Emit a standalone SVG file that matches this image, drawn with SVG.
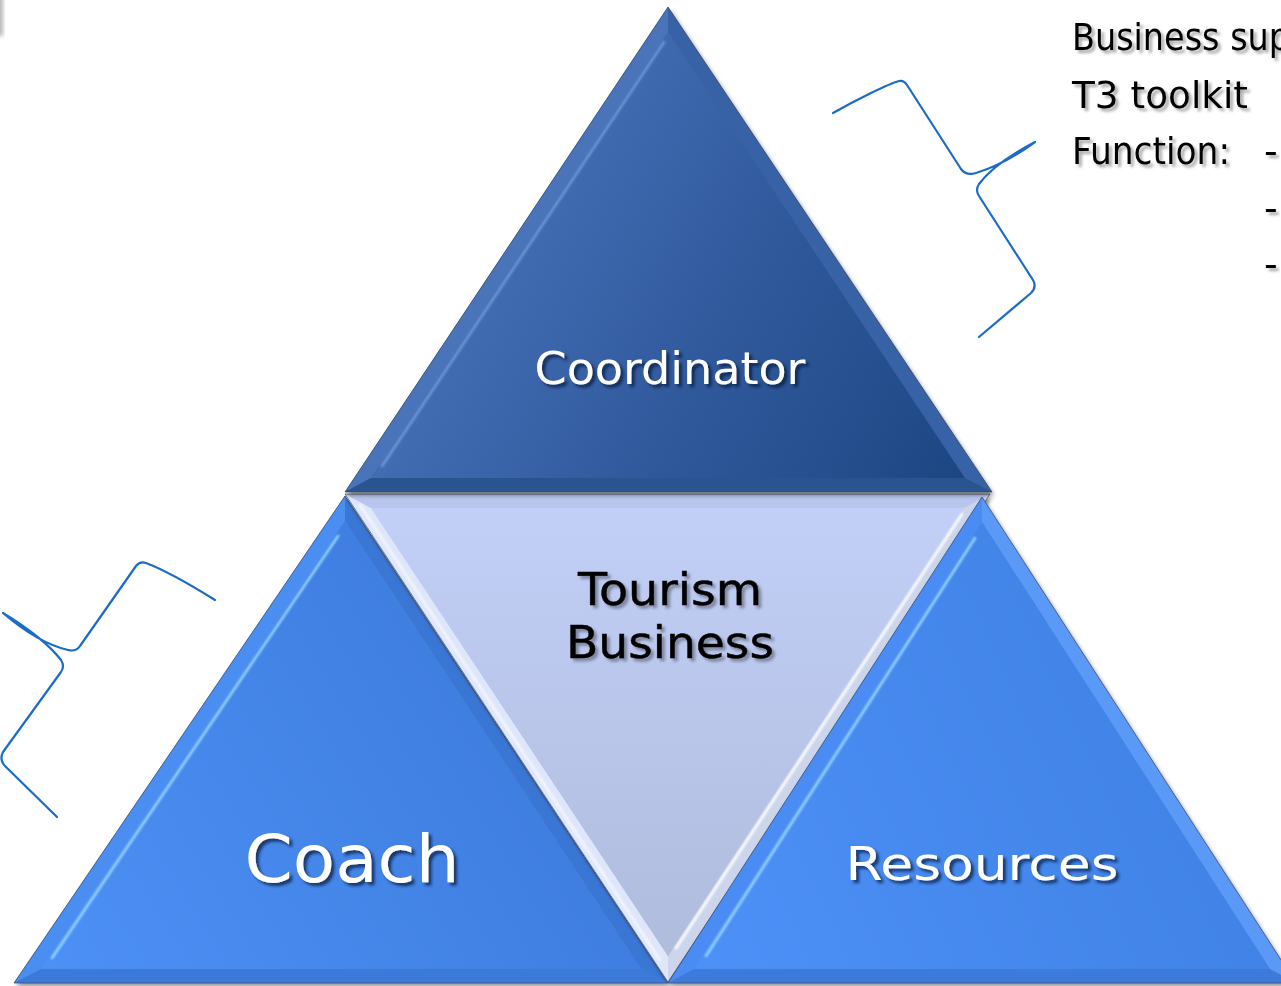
<svg xmlns="http://www.w3.org/2000/svg" width="1281" height="986" viewBox="0 0 1281 986">
<defs>
<style>
.lbl{font-family:"DejaVu Sans","Liberation Sans",sans-serif;text-anchor:middle}
.wt{fill:#ffffff;filter:url(#tsh)}
.bk{fill:#000000;stroke:#000;stroke-width:0.5;filter:url(#tsh2)}
.side{font-family:"DejaVu Sans","Liberation Sans",sans-serif;font-size:38px;fill:#000;filter:url(#tsh2)}
.brace{fill:none;stroke:#1a6cc6;stroke-width:2.2;stroke-linecap:round;stroke-linejoin:round}
.edge{fill:none;stroke:#3c4a60;stroke-width:1;stroke-opacity:0.7}
.hl{fill:none;stroke-width:2.5;stroke-linecap:round;filter:url(#soft)}
</style>
<filter id="dsh" x="-5%" y="-5%" width="110%" height="110%">
<feDropShadow dx="2" dy="3" stdDeviation="2" flood-color="#000" flood-opacity="0.45"/>
</filter>
<filter id="tsh" x="-10%" y="-20%" width="125%" height="150%">
<feGaussianBlur in="SourceAlpha" stdDeviation="1.6"/>
<feOffset dx="2.5" dy="3" result="b"/>
<feFlood flood-color="#0a1a3a" flood-opacity="0.75"/>
<feComposite in2="b" operator="in"/>
<feMerge><feMergeNode/><feMergeNode in="SourceGraphic"/></feMerge>
</filter>
<filter id="tsh2" x="-10%" y="-20%" width="125%" height="150%">
<feGaussianBlur in="SourceAlpha" stdDeviation="1.6"/>
<feOffset dx="2.5" dy="3" result="b"/>
<feFlood flood-color="#000" flood-opacity="0.35"/>
<feComposite in2="b" operator="in"/>
<feMerge><feMergeNode/><feMergeNode in="SourceGraphic"/></feMerge>
</filter>
<filter id="soft" x="-5%" y="-5%" width="110%" height="110%">
<feGaussianBlur stdDeviation="0.9"/>
</filter>
<filter id="blur4"><feGaussianBlur stdDeviation="2"/></filter>
<linearGradient id="gTop" gradientUnits="userSpaceOnUse" x1="400" y1="150" x2="990" y2="480">
<stop offset="0" stop-color="#4d78c0"/>
<stop offset="0.55" stop-color="#30599c"/>
<stop offset="1" stop-color="#1a4580"/>
</linearGradient>
<linearGradient id="gLeft" gradientUnits="userSpaceOnUse" x1="40" y1="970" x2="640" y2="600">
<stop offset="0" stop-color="#4d90f6"/>
<stop offset="1" stop-color="#3a78d8"/>
</linearGradient>
<linearGradient id="gRight" gradientUnits="userSpaceOnUse" x1="700" y1="960" x2="1270" y2="700">
<stop offset="0" stop-color="#4d90f7"/>
<stop offset="1" stop-color="#3e80e2"/>
</linearGradient>
<linearGradient id="gMid" gradientUnits="userSpaceOnUse" x1="0" y1="500" x2="0" y2="960">
<stop offset="0" stop-color="#c2cff7"/>
<stop offset="1" stop-color="#b0bcdc"/>
</linearGradient>
</defs>
<rect x="0" y="0" width="1281" height="986" fill="#ffffff"/>
<rect x="-8" y="-6" width="11" height="42" fill="#9a9a9a" filter="url(#blur4)" opacity="0.7"/>

<g id="node-coach">
<polygon points="345,496 14,983 668,983" fill="#4a8cf0" filter="url(#dsh)"/>
<polygon points="345,496 14,983 41,969 345,521" fill="#4b8ef2"/>
<polygon points="345,496 668,983 641,969 345,521" fill="#3a76d4"/>
<polygon points="14,983 668,983 641,969 41,969" fill="#3c7ad9"/>
<polygon points="345,521 41,969 641,969" fill="url(#gLeft)"/>
<path class="hl" d="M338,536 L52,958" stroke="#9ad8ff"/>
<polygon class="edge" points="345,496 14,983 668,983"/>
<text class="lbl wt" x="352" y="882" font-size="65" textLength="215" lengthAdjust="spacingAndGlyphs">Coach</text>
</g>

<g id="node-tourism-business">
<polygon points="345,494 990,494 668,982" fill="url(#gMid)" filter="url(#dsh)"/>
<polygon points="345,494 668,982 668,956 371,508" fill="#dfe6fa"/>
<polygon points="990,494 668,982 668,956 964,508" fill="#cdd5ec"/>
<polygon points="345,494 990,494 964,508 371,508" fill="#b8c5ec"/>
<polygon points="371,508 964,508 668,956" fill="url(#gMid)"/>
<path class="hl" d="M962,514 L676,948" stroke="#ffffff"/>
<path class="hl" d="M360,505 L660,960" stroke="#f4f7ff"/>
<polygon class="edge" points="345,494 990,494 668,982"/>
<text class="lbl bk" x="670" y="605" font-size="45" textLength="184" lengthAdjust="spacingAndGlyphs">Tourism</text>
<text class="lbl bk" x="670" y="658" font-size="45" textLength="208" lengthAdjust="spacingAndGlyphs">Business</text>
</g>

<g id="node-resources">
<polygon points="982,497 668,983 1296,983" fill="#4a8cf2" filter="url(#dsh)"/>
<polygon points="982,497 668,983 694,969 982,522" fill="#4a8cf3"/>
<polygon points="982,497 1296,983 1270,969 982,522" fill="#5a9af6"/>
<polygon points="668,983 1296,983 1270,969 694,969" fill="#3c7bdb"/>
<polygon points="982,522 694,969 1270,969" fill="url(#gRight)"/>
<path class="hl" d="M975,538 L706,956" stroke="#9ad8ff"/>
<polygon class="edge" points="982,497 668,983 1296,983"/>
<text class="lbl wt" x="982" y="880" font-size="47" textLength="273" lengthAdjust="spacingAndGlyphs">Resources</text>
</g>

<g id="node-coordinator">
<polygon points="668,7 345,492 992,492" fill="#3a64a8" filter="url(#dsh)"/>
<polygon points="668,7 345,492 371,478 668,32" fill="#4a74ba"/>
<polygon points="668,7 992,492 965,478 668,32" fill="#3862a6"/>
<polygon points="345,492 992,492 965,478 371,478" fill="#29548f"/>
<polygon points="668,32 371,478 965,478" fill="url(#gTop)"/>
<path class="hl" d="M664,42 L382,466" stroke="#7aa6e6" stroke-opacity="0.8"/>
<polygon class="edge" points="668,7 345,492 992,492"/>
<text class="lbl wt" x="670" y="384" font-size="44" textLength="271" lengthAdjust="spacingAndGlyphs">Coordinator</text>
</g>

<g id="connectors">
<path id="brace-right" class="brace" d="M833,113 C856,100 888,84 899,81 Q904,80 907,85 L961,169 Q966,176 976,173 Q1005,164 1035,142 Q995,163 979,184 Q975,190 979,196 L1033,280 Q1037,287 1031,293 L979,337"/>
<path id="brace-left" class="brace" d="M215,600 Q170,572 146,563 Q140,561 136,566 L80,646 Q76,652 68,650 Q38,643 3,613 Q44,638 61,660 Q65,666 61,672 L3,752 Q-1,760 5,766 L57,817"/>
</g>

<g id="node-notes">
<text class="side" x="1072" y="50" textLength="218" lengthAdjust="spacingAndGlyphs">Business sup</text>
<text class="side" x="1072" y="108" textLength="176" lengthAdjust="spacingAndGlyphs">T3 toolkit</text>
<text class="side" x="1072" y="164" textLength="158" lengthAdjust="spacingAndGlyphs">Function:</text>
<text class="side" x="1264" y="164">-</text>
<text class="side" x="1264" y="221">-</text>
<text class="side" x="1264" y="277">-</text>
</g>
</svg>
